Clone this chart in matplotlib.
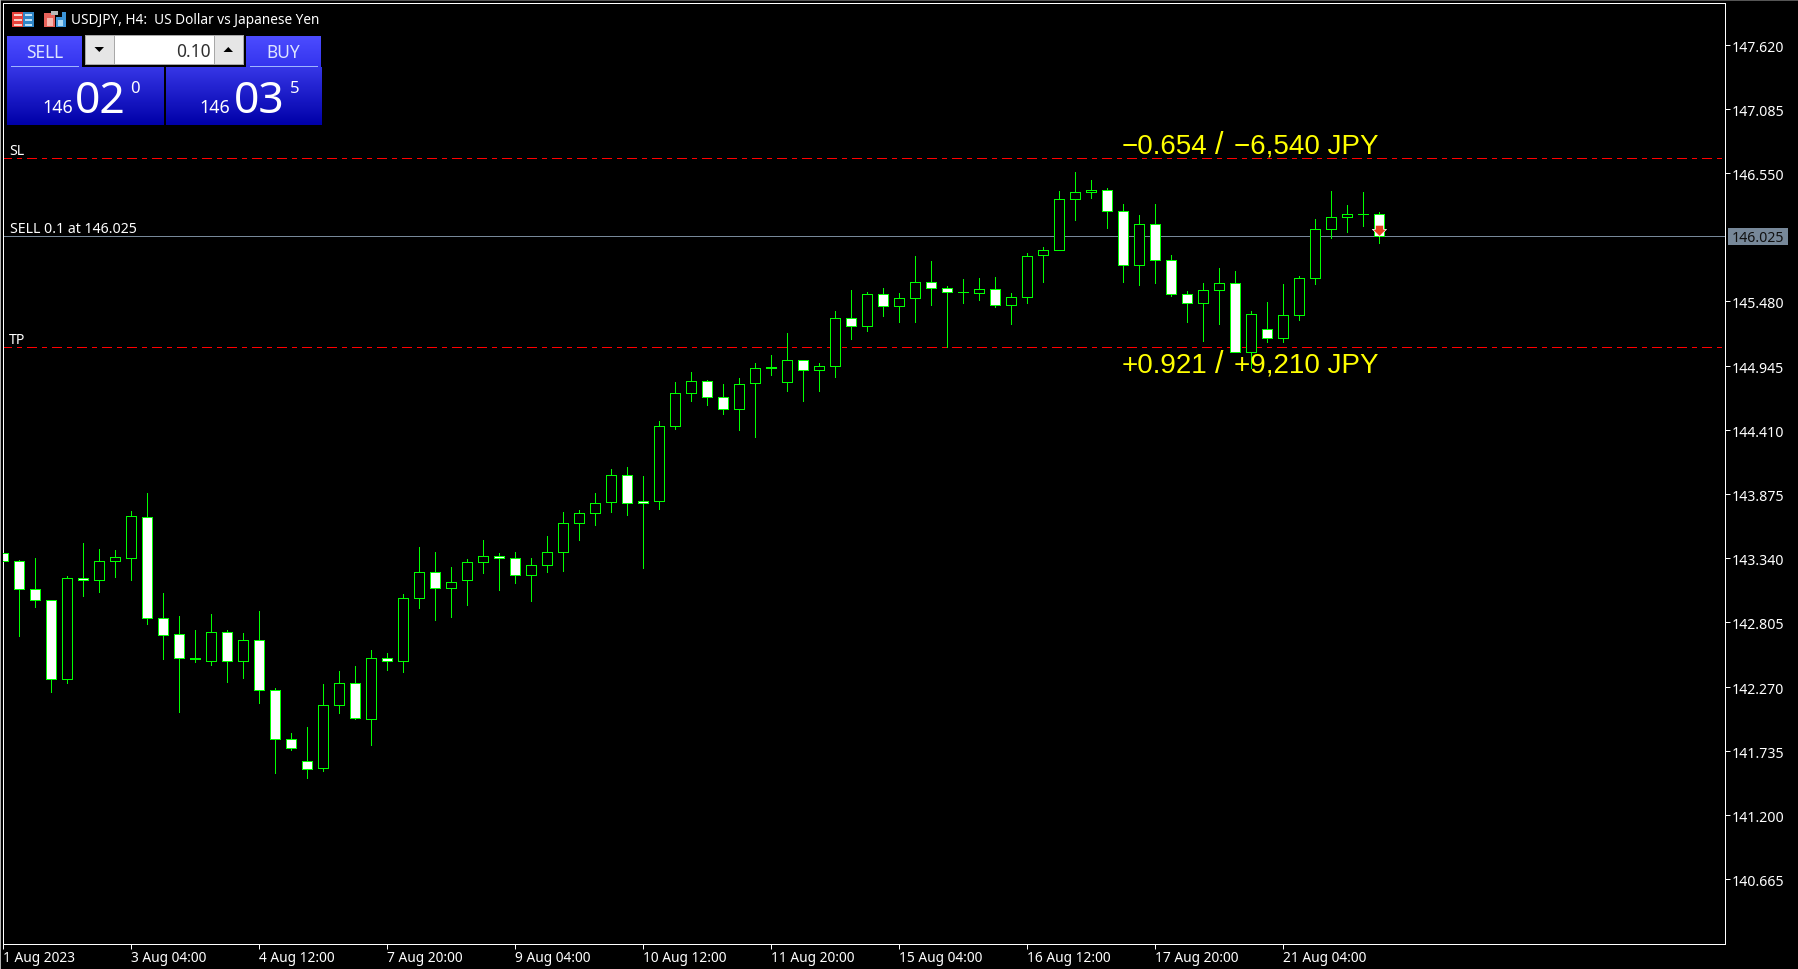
import numpy as np
import matplotlib
matplotlib.use('Agg')
import matplotlib.pyplot as plt
from matplotlib.patches import Rectangle, Polygon
from matplotlib.path import Path
from matplotlib.transforms import ScaledTranslation

plt.rcParams['font.family'] = ['Noto Sans', 'DejaVu Sans']
plt.rcParams['lines.scale_dashes'] = False

W, H = 1798, 969
PX = 0.72  # one pixel in points at dpi 100

# H4 candles
opens = [143.383, 143.316, 143.083, 142.991, 142.333, 143.175, 143.158, 143.316, 143.341, 143.683,
         142.841, 142.708, 142.508, 142.483, 142.725, 142.483, 142.658, 142.241, 141.833, 141.650,
         141.591, 142.116, 142.300, 142.000, 142.508, 142.483, 143.005, 143.225, 143.088, 143.155,
         143.305, 143.358, 143.341, 143.197, 143.280, 143.388, 143.630, 143.713, 143.805, 144.033,
         143.816, 143.813, 144.438, 144.713, 144.816, 144.683, 144.580, 144.797, 144.930, 144.805,
         144.992, 144.905, 144.939, 145.342, 145.272, 145.542, 145.439, 145.505, 145.642, 145.592,
         145.558, 145.547, 145.583, 145.447, 145.514, 145.864, 145.905, 146.333, 146.391, 146.408,
         146.233, 145.783, 146.125, 145.825, 145.541, 145.466, 145.575, 145.633, 145.058, 145.250,
         145.175, 145.366, 145.675, 146.083, 146.183, 146.208, 146.208]
closes = [143.316, 143.083, 142.991, 142.333, 143.175, 143.158, 143.316, 143.350, 143.691, 142.841,
          142.700, 142.508, 142.500, 142.725, 142.483, 142.658, 142.241, 141.833, 141.758, 141.583,
          142.116, 142.300, 142.008, 142.508, 142.483, 143.008, 143.225, 143.088, 143.141, 143.308,
          143.358, 143.338, 143.197, 143.283, 143.391, 143.633, 143.716, 143.800, 144.033, 143.797,
          143.797, 144.441, 144.716, 144.816, 144.680, 144.580, 144.791, 144.925, 144.925, 144.992,
          144.905, 144.942, 145.342, 145.272, 145.542, 145.439, 145.508, 145.642, 145.589, 145.558,
          145.556, 145.583, 145.447, 145.517, 145.858, 145.908, 146.333, 146.391, 146.408, 146.233,
          145.783, 146.125, 145.825, 145.541, 145.466, 145.575, 145.633, 145.058, 145.375, 145.175,
          145.366, 145.675, 146.083, 146.183, 146.208, 146.206, 146.025]
highs = [143.383, 143.327, 143.344, 142.991, 143.191, 143.466, 143.419, 143.411, 143.736, 143.883,
         143.050, 142.861, 142.744, 142.877, 142.744, 142.716, 142.902, 142.258, 141.883, 141.936,
         142.294, 142.402, 142.444, 142.577, 142.552, 143.044, 143.436, 143.394, 143.269, 143.333,
         143.494, 143.383, 143.394, 143.341, 143.527, 143.727, 143.744, 143.886, 144.086, 144.102,
         144.027, 144.486, 144.811, 144.891, 144.827, 144.794, 144.844, 144.966, 145.030, 145.217,
         144.992, 144.967, 145.403, 145.578, 145.561, 145.594, 145.553, 145.861, 145.819, 145.611,
         145.669, 145.678, 145.686, 145.553, 145.886, 145.936, 146.402, 146.561, 146.494, 146.425,
         146.294, 146.202, 146.294, 145.869, 145.566, 145.636, 145.761, 145.733, 145.400, 145.477,
         145.627, 145.694, 146.169, 146.402, 146.286, 146.394, 146.225]
lows = [143.316, 142.688, 142.930, 142.222, 142.297, 143.022, 143.055, 143.180, 143.155, 142.788,
        142.497, 142.055, 142.472, 142.447, 142.305, 142.338, 142.130, 141.547, 141.738, 141.505,
        141.563, 142.047, 141.997, 141.786, 142.405, 142.388, 142.927, 142.827, 142.852, 142.952,
        143.213, 143.077, 143.136, 142.986, 143.227, 143.236, 143.494, 143.619, 143.727, 143.702,
        143.261, 143.752, 144.419, 144.652, 144.619, 144.544, 144.411, 144.352, 144.869, 144.736,
        144.647, 144.736, 144.847, 145.169, 145.236, 145.361, 145.311, 145.311, 145.453, 145.100,
        145.469, 145.494, 145.436, 145.294, 145.469, 145.644, 145.905, 146.155, 146.338, 146.088,
        145.644, 145.613, 145.630, 145.522, 145.311, 145.147, 145.288, 145.058, 144.925, 145.138,
        145.138, 145.327, 145.622, 146.005, 146.055, 146.111, 145.969]

price_ticks = [147.620, 147.085, 146.550, 145.480, 144.945, 144.410, 143.875,
               143.340, 142.805, 142.270, 141.735, 141.200, 140.665]
date_labels = ['1 Aug 2023', '3 Aug 04:00', '4 Aug 12:00', '7 Aug 20:00', '9 Aug 04:00',
               '10 Aug 12:00', '11 Aug 20:00', '15 Aug 04:00', '16 Aug 12:00',
               '17 Aug 20:00', '21 Aug 04:00']
date_bars = [0, 8, 16, 24, 32, 40, 48, 56, 64, 72, 80]

entry_price = 146.025
sl_price = 146.675
tp_price = 145.100
arrow_bar = 86
arrow_price = 146.079

GREEN = '#00FF00'
SLATE = '#778899'


def add_gradient(ax, x0, y0, x1, y1, top, bottom):
    """Vertical colour ramp between two pixel rows"""
    c0 = np.array(matplotlib.colors.to_rgb(top))
    c1 = np.array(matplotlib.colors.to_rgb(bottom))
    t = np.linspace(0, 1, 64)[:, None, None]
    img = c0[None, None, :] * (1 - t) + c1[None, None, :] * t
    ax.imshow(img, extent=(x0, x1, y1, y0), aspect='auto', zorder=2, interpolation='bilinear')


def add_box(ax, x0, y0, x1, y1, color, z=3):
    ax.add_patch(Rectangle((x0, y0), x1 - x0, y1 - y0, facecolor=color, edgecolor='none',
                           antialiased=False, zorder=z))


fig = plt.figure(figsize=(W / 100, H / 100), dpi=100, facecolor='black')

# price chart, whole pixel numbers land on the frame rows after snapping
left, right, top, bottom = 3.0, 1725.0, 3.0, 944.0
ax = fig.add_axes([left / W, 1 - bottom / H, (right - left) / W, (bottom - top) / H])
ax.set_facecolor('black')
ax.set_xlim(0, (right - left) / 16)
ax.set_ylim(entry_price - (bottom - 236) / 120, entry_price + (236 - top) / 120)

for side in ax.spines.values():
    side.set_color('white')
    side.set_linewidth(PX)

ax.yaxis.tick_right()
ax.set_yticks(price_ticks)
ax.set_yticklabels([f'{p:.3f}' for p in price_ticks])
ax.tick_params(axis='y', colors='white', length=3.4, width=PX, pad=1.6, labelsize=10.2)
ax.set_xticks(date_bars)
ax.set_xticklabels(date_labels)
ax.tick_params(axis='x', colors='white', length=3.4, width=PX, pad=2.0, labelsize=9.9)
for lab in ax.get_xticklabels():
    lab.set_ha('left')
nudge = ScaledTranslation(0, -1.5 / 100, fig.dpi_scale_trans)
for lab in ax.get_yticklabels():
    lab.set_transform(lab.get_transform() + nudge)

# order lines go under the candles
ax.axhline(entry_price, color=SLATE, lw=PX, zorder=1)
dash = (9 * PX, 6 * PX, 3 * PX, 6 * PX)
for level in (sl_price, tp_price):
    ax.axhline(level, color='#FF0000', lw=PX, linestyle=(0.8 * PX, dash), dash_capstyle='butt',
               antialiased=False, zorder=1)

bars = np.arange(len(opens))
ax.vlines(bars, lows, highs, color=GREEN, lw=PX, antialiased=False, zorder=2)
body_w = 10 / 16
for i in bars:
    o, c = opens[i], closes[i]
    fill = 'black' if c > o else 'white'
    ax.add_patch(Rectangle((i - body_w / 2, min(o, c)), body_w, abs(c - o), facecolor=fill,
                           edgecolor=GREEN, lw=PX, antialiased=False, zorder=3))

# sell deal arrow on the last candle
arrow = Path([(-6, -1), (-3.5, -1), (-3.5, -4.5), (3.5, -4.5), (3.5, -1), (6, -1), (0, 5), (-6, -1)])
arrow = Path(arrow.vertices * [1, -1])
ax.plot([arrow_bar], [arrow_price], marker=arrow, ms=14 * PX, mfc='#E6401E', mec='white',
        mew=0.5, ls='none', zorder=5, clip_on=False)

# overlay in pixel coordinates for the chart furniture
ov = fig.add_axes([0, 0, 1, 1], zorder=10)
ov.patch.set_alpha(0)
ov.axis('off')

# window edge
add_box(ov, 0, 0, W, 1, '#555555')
add_box(ov, 0, 0, 1, H, '#B0B0B0')

# title icons
add_box(ov, 12, 12, 23, 27, '#E8413A')
add_box(ov, 23, 12, 34, 27, '#2F86C8')
for yy in (14, 19, 24):
    add_box(ov, 14, yy, 22, yy + 2, '#F8D0C8', z=4)
    add_box(ov, 25, yy, 32, yy + 2, '#BFE0F5', z=4)
add_box(ov, 44, 13, 55, 27, '#E8625A')
add_box(ov, 47, 18, 53, 26, '#F6B8B0', z=4)
add_box(ov, 56, 17, 66, 27, '#3B94D8')
add_box(ov, 58, 20, 63, 26, '#A8D8F5', z=4)
add_box(ov, 62, 12, 66, 18, '#3B94D8')
add_box(ov, 51, 11, 58, 15, '#B8B8B8', z=4)
ov.text(71, 20.5, 'USDJPY, H4:  US Dollar vs Japanese Yen', color='white', fontsize=9.8, va='center', ha='left')

# one click trading panel
add_gradient(ov, 7, 36, 82, 67, '#4C4CFF', '#3434EE')
add_gradient(ov, 246, 36, 321, 67, '#4C4CFF', '#3434EE')
add_gradient(ov, 7, 67, 164, 125, '#3636E6', '#0000A8')
add_gradient(ov, 166, 67, 322, 125, '#3636E6', '#0000A8')
add_box(ov, 11, 66, 79, 67, '#9FB4FF')
add_box(ov, 250, 66, 318, 67, '#9FB4FF')
add_box(ov, 83, 34, 246, 67, 'black')
add_box(ov, 85, 35, 244, 65, '#A8A8A8', z=4)
add_box(ov, 86, 36, 114, 64, '#E6E6E6', z=5)
add_box(ov, 215, 36, 243, 64, '#E6E6E6', z=5)
add_box(ov, 115, 36, 214, 64, 'white', z=5)
ov.add_patch(Polygon([(94.5, 47), (104, 47), (99.3, 52)], facecolor='black', edgecolor='none', zorder=6))
ov.add_patch(Polygon([(223.5, 52), (233, 52), (228.3, 47)], facecolor='black', edgecolor='none', zorder=6))
ov.text(211, 52, '0.10', color='#303030', fontsize=12.5, ha='right', va='center', zorder=7)
ov.text(45, 52.5, 'SELL', color='#DDE4FF', fontsize=12.5, ha='center', va='center', zorder=7)
ov.text(283, 52.5, 'BUY', color='#DDE4FF', fontsize=12.5, ha='center', va='center', zorder=7)

for x_small, x_big, x_tiny, big, tiny in [(42, 75, 130, '02', '0'), (199, 234, 290, '03', '5')]:
    ov.text(x_small, 113, '146', color='white', fontsize=12.8, ha='left', va='baseline', zorder=7)
    ov.text(x_big, 113, big, color='white', fontsize=32, ha='left', va='baseline', zorder=7)
    ov.text(x_tiny, 93, tiny, color='white', fontsize=12, ha='left', va='baseline', zorder=7)

# order line captions and profit labels
ov.text(9, 151, 'SL', color='white', fontsize=10.2, ha='left', va='center')
ov.text(10, 229, 'SELL 0.1 at 146.025', color='white', fontsize=10.2, ha='left', va='center')
ov.text(9, 340, 'TP', color='white', fontsize=10.2, ha='left', va='center')
for base, left_part, right_part in [(153.5, '\u22120.654', '\u22126,540 JPY'), (373, '+0.921', '+9,210 JPY')]:
    ov.text(1122, base, left_part, color='yellow', fontsize=20, family='Liberation Sans',
            ha='left', va='baseline')
    ov.text(1219.5, base, '/', color='yellow', fontsize=22, family='Liberation Sans',
            ha='center', va='baseline')
    ov.text(1378, base, right_part, color='yellow', fontsize=20, family='Liberation Sans',
            ha='right', va='baseline')

# current price tag on the scale
add_box(ov, 1728, 228, 1788, 245, SLATE)
ov.text(1732, 238, f'{entry_price:.3f}', color='#111111', fontsize=10.2, ha='left', va='center', zorder=7)

ov.set_xlim(0, W)
ov.set_ylim(H, 0)

fig.savefig('out.png', dpi=100, facecolor='black')
